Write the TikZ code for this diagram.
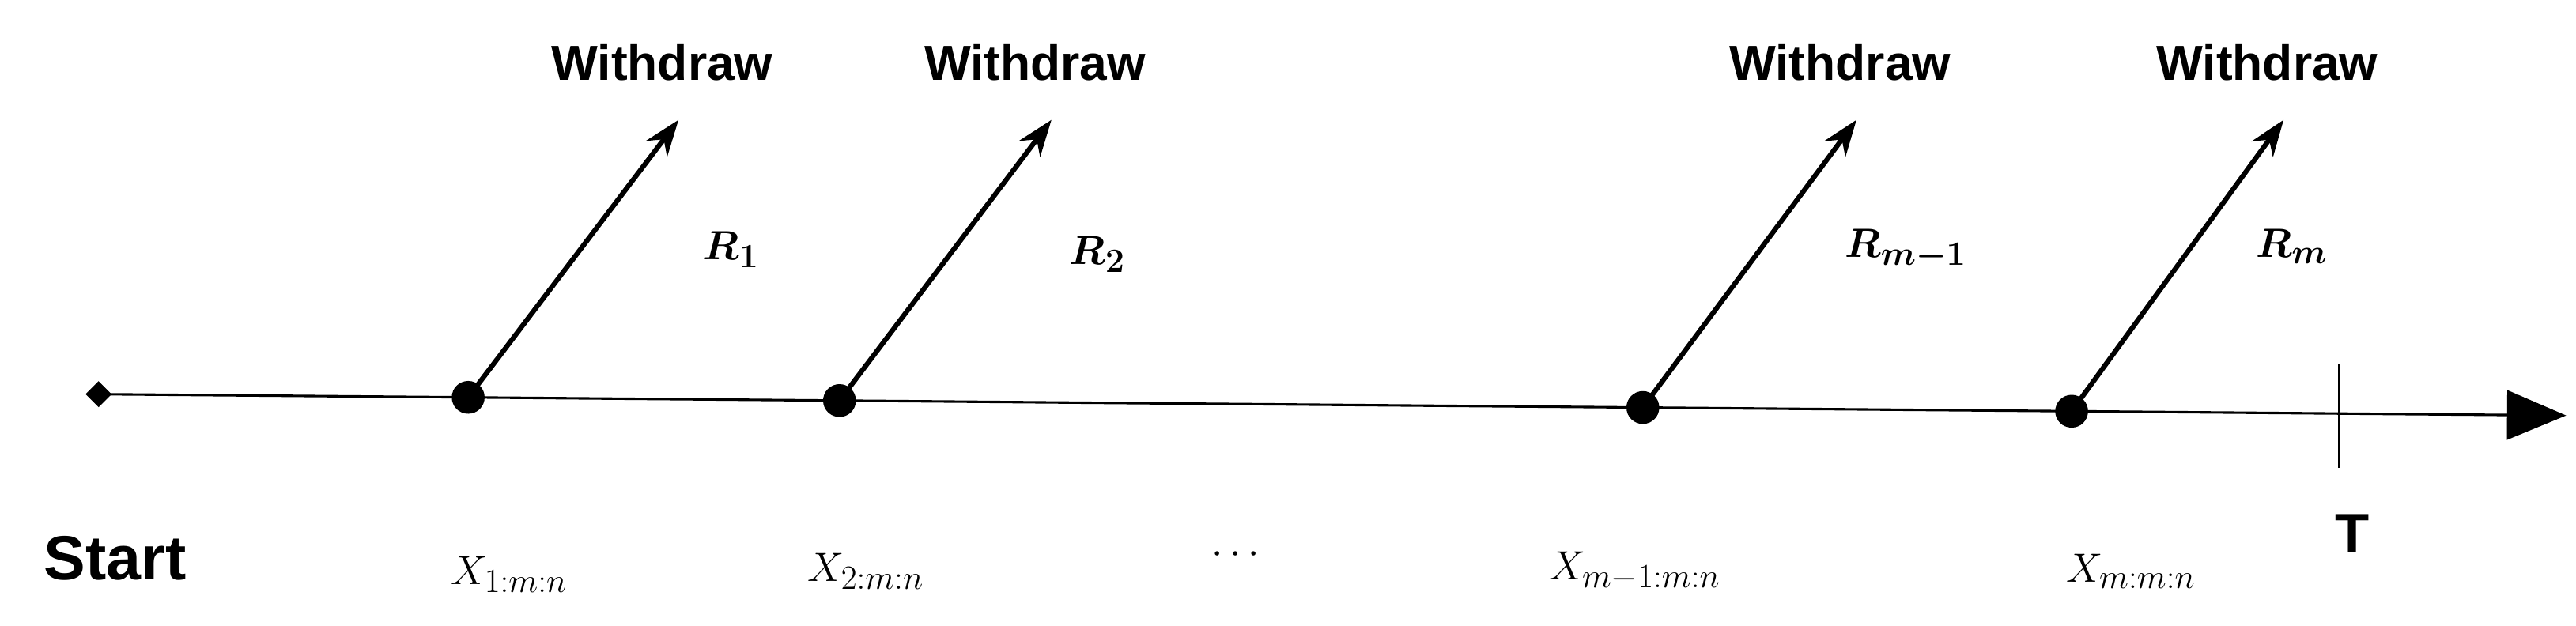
\documentclass[tikz,border=0pt]{standalone}
\usepackage{bm}
\usepackage{fontspec}
\setmainfont{Liberation Sans}
\usetikzlibrary{arrows.meta,calc,shapes.geometric}
\begin{document}
\begin{tikzpicture}[x=1pt,y=-1pt,
  lbl/.style={font=\fontsize{34}{40}\selectfont\bfseries},
  xl/.style={font=\fontsize{30}{36}\selectfont},
  dot/.style={circle,fill=black,inner sep=0pt,minimum size=20pt},
  wd/.style={line width=3pt,-{Stealth[length=22pt,width=16pt]}}]
\useasboundingbox (0,0) rectangle (1568,381);
\node[diamond,fill=black,inner sep=0pt,minimum size=16pt] (s) at (60,240) {};
\coordinate (e) at (1562,253);
\draw[line width=1.5pt,-{Triangle[length=36pt,width=30pt]}] (s.center) -- (e);
\foreach \n/\x/\tx/\ty/\lab/\rx/\ry/\rl in {a/285/413/73/Withdraw/445/152/{R_1},b/511/640/73/Withdraw/668/155/{R_2},c/1000/1130/73/Withdraw/1160/152/{R_{m-1}},d/1261/1390/73/Withdraw/1395/150/{R_m}}{
  \node[dot] (\n) at ($(s.center)!{(\x-60)/1502}!(e)$) {};
  \coordinate (t\n) at (\tx,\ty);
  \draw[wd] (\n.center) -- (t\n);
  \node[lbl,font=\fontsize{30}{36}\selectfont\bfseries] (w\n) at (\tx-10,38) {\lab};
  \node[font=\fontsize{30}{36}\selectfont] (r\n) at (\rx,\ry) {$\bm{\rl}$};
}
\draw[line width=1.5pt] (1424,222) -- (1424,285);
\node[lbl,font=\fontsize{38}{44}\selectfont\bfseries] (st) at (70,340) {Start};
\node[xl] (x1) at (310,350) {$X_{1:m:n}$};
\node[xl] (x2) at (527,348) {$X_{2:m:n}$};
\node[xl] (xd) at (752,338) {$\cdots$};
\node[xl] (x3) at (995,348) {$X_{m-1:m:n}$};
\node[xl] (x4) at (1297,348) {$X_{m:m:n}$};
\node[lbl] (T) at (1432,325) {T};
\end{tikzpicture}
\end{document}
